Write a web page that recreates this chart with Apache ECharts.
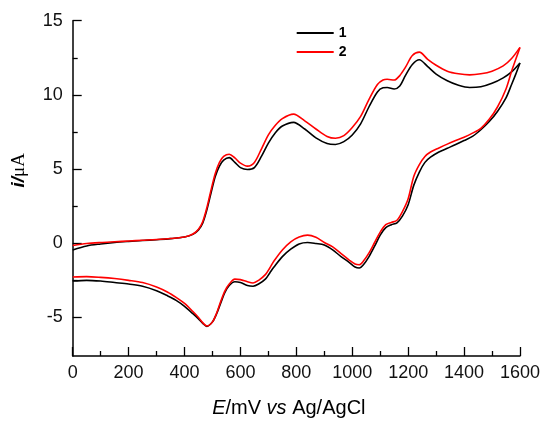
<!DOCTYPE html>
<html>
<head>
<meta charset="utf-8">
<script src="https://cdn.jsdelivr.net/npm/echarts@6/dist/echarts.min.js"></script>
<style>
html,body{margin:0;padding:0;background:#fff;}
#chart{width:543px;height:423px;}
</style>
</head>
<body>
<div id="chart"></div>
<script>
// Potential (mV vs Ag/AgCl), forward (anodic) scan
const eForward = [0, 50, 100, 150, 200, 250, 300, 350, 400, 430, 450, 465, 480, 495, 510, 525, 540, 560, 580, 600, 625, 650, 675, 700, 725, 750, 790, 830, 870, 910, 940, 970, 1000, 1030, 1060, 1090, 1110, 1125, 1150, 1170, 1190, 1215, 1240, 1270, 1300, 1340, 1380, 1420, 1460, 1500, 1540, 1570, 1600];
// Current (uA), curve 1, forward scan
const iForward1 = [-0.45, -0.18, -0.05, 0.05, 0.12, 0.18, 0.24, 0.31, 0.42, 0.6, 0.9, 1.35, 2.25, 3.4, 4.5, 5.2, 5.6, 5.77, 5.45, 5.1, 4.97, 5.1, 5.85, 6.75, 7.45, 7.9, 8.15, 7.7, 7.1, 6.72, 6.66, 6.85, 7.3, 8.05, 9.2, 10.2, 10.48, 10.5, 10.4, 10.6, 11.3, 12.05, 12.37, 11.9, 11.4, 10.95, 10.65, 10.5, 10.55, 10.78, 11.15, 11.55, 12.15];
// Current (uA), curve 2, forward scan
const iForward2 = [-0.15, -0.02, 0.05, 0.1, 0.15, 0.2, 0.25, 0.32, 0.42, 0.62, 0.95, 1.45, 2.4, 3.6, 4.7, 5.45, 5.85, 6.0, 5.75, 5.4, 5.2, 5.45, 6.35, 7.3, 7.95, 8.4, 8.7, 8.25, 7.7, 7.2, 7.08, 7.25, 7.8, 8.55, 9.7, 10.7, 11.0, 11.05, 11.0, 11.3, 11.85, 12.65, 12.88, 12.4, 12.0, 11.6, 11.42, 11.35, 11.42, 11.6, 11.95, 12.45, 13.2];

// Potential (mV), reverse (cathodic) scan
const eReverse = [1600, 1585, 1570, 1550, 1520, 1490, 1460, 1430, 1400, 1370, 1340, 1310, 1280, 1260, 1240, 1220, 1200, 1180, 1160, 1140, 1120, 1100, 1080, 1060, 1040, 1025, 1010, 990, 960, 930, 900, 870, 840, 810, 780, 750, 720, 705, 690, 665, 645, 625, 600, 580, 560, 545, 530, 515, 500, 480, 465, 450, 430, 400, 370, 340, 300, 250, 200, 150, 100, 50, 0];
// Current (uA), curve 1, reverse scan
const iReverse1 = [12.15, 11.4, 10.7, 9.8, 8.9, 8.2, 7.65, 7.2, 6.92, 6.65, 6.4, 6.15, 5.8, 5.45, 4.8, 3.9, 2.6, 1.85, 1.38, 1.25, 1.05, 0.55, -0.2, -0.9, -1.45, -1.67, -1.6, -1.3, -0.9, -0.45, -0.12, -0.02, 0.05, -0.05, -0.4, -0.9, -1.6, -2.0, -2.4, -2.75, -2.9, -2.85, -2.65, -2.6, -2.85, -3.3, -4.0, -4.75, -5.3, -5.6, -5.4, -5.1, -4.75, -4.25, -3.85, -3.55, -3.2, -2.9, -2.75, -2.65, -2.55, -2.5, -2.55];
// Current (uA), curve 2, reverse scan
const iReverse2 = [13.2, 12.4, 11.6, 10.4, 9.2, 8.35, 7.75, 7.42, 7.15, 6.92, 6.68, 6.42, 6.15, 5.85, 5.3, 4.5, 3.0, 2.15, 1.55, 1.4, 1.25, 0.75, 0.05, -0.65, -1.2, -1.45, -1.4, -1.15, -0.7, -0.25, 0.05, 0.4, 0.55, 0.42, 0.1, -0.45, -1.2, -1.67, -2.1, -2.5, -2.68, -2.6, -2.45, -2.42, -2.75, -3.2, -3.9, -4.7, -5.3, -5.58, -5.35, -5.0, -4.6, -4.05, -3.65, -3.3, -2.95, -2.65, -2.5, -2.38, -2.3, -2.25, -2.28];

const seriesNames = ['1', '2'];
const xMajorTicks = [0, 200, 400, 600, 800, 1000, 1200, 1400, 1600];
const xMinorTicks = [100, 300, 500, 700, 900, 1100, 1300, 1500];
const yMajorTicks = [-5, 0, 5, 10, 15];
const yMinorTicks = [-2.5, 2.5, 7.5, 12.5];

function pairs(es, is) { return es.map((e, k) => [e, is[k]]); }

const FONT = '"Liberation Sans", Arial, sans-serif';
const colors = ['#000000', '#ff0000'];
const X_MIN = 0, X_MAX = 1600, Y_MIN = -7.6, Y_MAX = 15;

function lineSeries(name, data, color) {
  return {
    name: name, type: 'line', data: data, smooth: 0.3, symbol: 'none',
    xAxisIndex: 0, yAxisIndex: 0,
    lineStyle: { color: color, width: 1.6 }, itemStyle: { color: color },
    animation: false
  };
}

function tickAxis(min, max, values, len, position) {
  return {
    type: 'value', min: min, max: max, position: position,
    axisLine: { show: false, onZero: false },
    axisTick: { show: true, inside: true, length: len, customValues: values, lineStyle: { color: '#000', width: 1.3 } },
    axisLabel: { show: false },
    splitLine: { show: false }
  };
}

const chart = echarts.init(document.getElementById('chart'), null, { renderer: 'canvas' });
chart.setOption({
  backgroundColor: '#ffffff',
  animation: false,
  grid: { left: 72.7, right: 22.3, top: 20.7, bottom: 66.3, containLabel: false },
  legend: {
    data: seriesNames, orient: 'vertical', left: 291.7, top: 21,
    icon: 'rect', itemWidth: 37, itemHeight: 2, itemGap: 5,
    textStyle: { fontFamily: FONT, fontSize: 14, fontWeight: 'bold', color: '#000' }
  },
  xAxis: [
    {
      type: 'value', min: X_MIN, max: X_MAX, interval: 200, position: 'bottom',
      name: '{it|E}{rm|/mV }{it|vs}{rm| Ag/AgCl}',
      nameLocation: 'middle', nameGap: 42,
      nameTextStyle: {
        padding: [0, 15, 0, 0],
        rich: {
          it: { fontFamily: FONT, fontSize: 20, fontStyle: 'italic', color: '#000' },
          rm: { fontFamily: FONT, fontSize: 20, color: '#000' }
        }
      },
      axisLine: { show: true, onZero: false, lineStyle: { color: '#000', width: 1.5 } },
      axisTick: { show: false },
      axisLabel: { fontFamily: FONT, fontSize: 18, color: '#111', margin: 8, formatter: v => String(v) },
      splitLine: { show: false }
    },
    tickAxis(X_MIN, X_MAX, xMajorTicks, 9, 'bottom'),
    tickAxis(X_MIN, X_MAX, xMinorTicks, 5, 'bottom')
  ],
  yAxis: [
    {
      type: 'value', min: Y_MIN, max: Y_MAX, position: 'left',
      name: '{b|i/}{s|μA}',
      nameLocation: 'middle', nameGap: 44,
      nameTextStyle: {
        padding: [0, 0, 0, 36],
        rich: {
          b: { fontFamily: FONT, fontSize: 19, fontStyle: 'italic', fontWeight: 'bold', color: '#000' },
          s: { fontFamily: '"Liberation Serif", "Times New Roman", serif', fontSize: 19, color: '#000' }
        }
      },
      axisLine: { show: true, onZero: false, lineStyle: { color: '#000', width: 1.5 } },
      axisTick: { show: false },
      axisLabel: { fontFamily: FONT, fontSize: 18, color: '#111', margin: 10, customValues: yMajorTicks, formatter: v => String(v) },
      splitLine: { show: false }
    },
    tickAxis(Y_MIN, Y_MAX, yMajorTicks, 9, 'left'),
    tickAxis(Y_MIN, Y_MAX, yMinorTicks, 5, 'left')
  ],
  series: [
    lineSeries('1', pairs(eForward, iForward1), colors[0]),
    lineSeries('1', pairs(eReverse, iReverse1), colors[0]),
    lineSeries('2', pairs(eForward, iForward2), colors[1]),
    lineSeries('2', pairs(eReverse, iReverse2), colors[1])
  ]
});
</script>
</body>
</html>
